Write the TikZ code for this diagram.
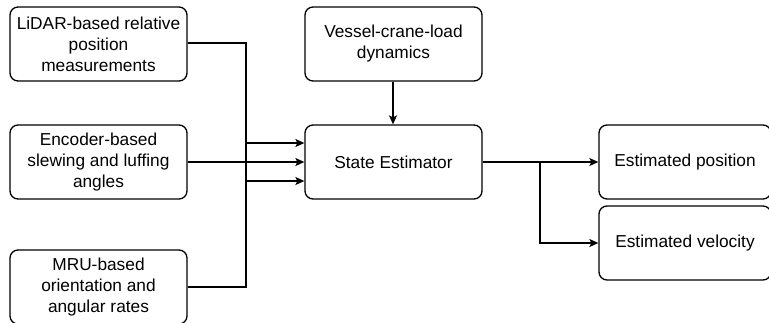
\documentclass[tikz,border=0pt]{standalone}
\usepackage{fontspec}
\setmainfont{Liberation Sans}
\usetikzlibrary{arrows.meta}
\begin{document}
\begin{tikzpicture}[x=1pt,y=-1pt,
  blk/.style={draw,line width=1.3pt,rounded corners=8pt,align=center,font=\fontsize{17.3}{21}\selectfont},
  conn/.style={line width=1.5pt,-{Stealth[length=9pt,width=8pt,inset=2pt]}},
  wire/.style={line width=1.5pt}]
\useasboundingbox (0,0) rectangle (769,322);
\node[blk,minimum width=177pt,minimum height=74pt] (lidar) at (98.5,44) {LiDAR-based relative\\position\\measurements};
\node[blk,minimum width=177pt,minimum height=74pt] (enc) at (98.5,162) {Encoder-based\\slewing and luffing\\angles};
\node[blk,minimum width=177pt,minimum height=74pt] (mru) at (98.5,287) {MRU-based\\orientation and\\angular rates};
\node[blk,minimum width=177pt,minimum height=74pt] (ves) at (393.5,44) {Vessel-crane-load\\dynamics};
\node[blk,minimum width=177pt,minimum height=74pt] (se) at (393.5,162) {State Estimator};
\node[blk,minimum width=172pt,minimum height=74pt] (pos) at (685,162) {Estimated position};
\node[blk,minimum width=172pt,minimum height=74pt] (vel) at (685,243) {Estimated velocity};
\coordinate (j1) at (246,43);
\coordinate (j2) at (246,287);
\coordinate (br) at (540,162);
\coordinate (vx) at (393,0);
\draw[conn] (lidar.east |- j1) -- (j1) |- ([yshift=-19pt]se.west);
\draw[conn] (enc.east) -- (se.west);
\draw[conn] (mru.east |- j2) -- (j2) |- ([yshift=19pt]se.west);
\draw[conn] (vx |- ves.south) -- (vx |- se.north);
\draw[conn] (se.east) -- (pos.west);
\draw[conn] (br) |- (vel.west);
\end{tikzpicture}
\end{document}
